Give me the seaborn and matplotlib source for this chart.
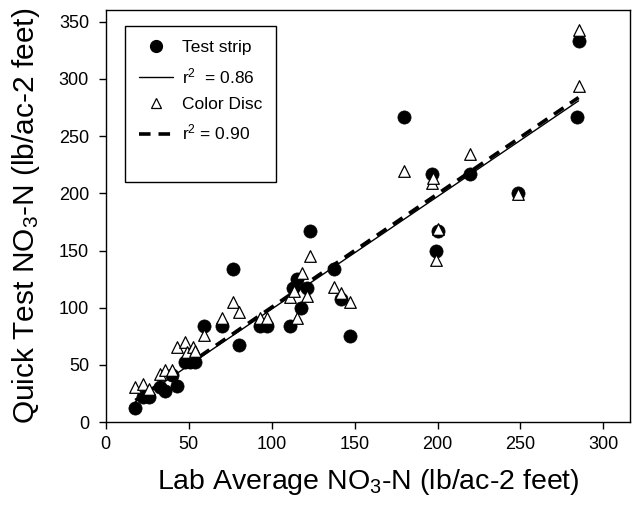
import numpy as np
import pandas as pd
import matplotlib
matplotlib.use("Agg")
import matplotlib.pyplot as plt
from matplotlib.lines import Line2D
import seaborn as sns

# Test strip readings vs lab average (lb/ac-2 feet)
strip_x = [17.5, 22.5, 26, 32.5, 36, 40, 43, 48, 50.5, 54, 59.5, 70, 77, 80.5, 93, 97.5,
           111, 113, 115, 117.5, 121.5, 123, 137.5, 142, 147.5, 179.5, 196.5, 199, 200.5,
           219.5, 248.5, 284, 285]
strip_y = [12, 22, 22, 30.5, 27, 41, 31.5, 52.5, 52.5, 52.5, 84, 84, 133.5, 67.5, 84, 84,
           84, 117, 125.5, 100, 117, 167, 133.5, 108, 75, 267, 217, 150, 167,
           217, 200, 267, 333]

# Color disc readings vs lab average
disc_x = [17.5, 22.5, 26, 33, 36, 40, 43, 48, 49, 52.5, 54, 59, 70, 77, 80.5, 93, 97.5,
          111, 113.5, 115, 118, 121.5, 123, 137.5, 142, 147.5, 179.5, 196.5, 197, 199,
          200.5, 219.5, 248.5, 285, 285]
disc_y = [30.5, 33.5, 29, 42, 45.5, 45.5, 65.5, 70.5, 61, 66, 62.5, 76, 91, 105, 96, 91, 91,
          109, 115, 91, 130, 110, 145, 118, 113, 105, 219.5, 209, 213, 142,
          168.5, 234, 199.5, 293.5, 343]

# fitted lines (slope, intercept)
strip_fit = (0.984, 0.4)
disc_fit = (0.991, 1.3)
fit_range = [17.9, 285]

strip = pd.DataFrame({"lab": strip_x, "quick": strip_y})
disc = pd.DataFrame({"lab": disc_x, "quick": disc_y})

sns.set_style("ticks")
plt.rcParams["font.family"] = ["Liberation Sans", "DejaVu Sans"]
plt.rcParams["mathtext.fontset"] = "custom"
plt.rcParams["mathtext.rm"] = "Liberation Sans"
plt.rcParams["mathtext.it"] = "Liberation Sans"
plt.rcParams["text.color"] = "black"
plt.rcParams["axes.labelcolor"] = "black"

fig = plt.figure(figsize=(6.37, 5.13), dpi=100)
ax = fig.add_axes([0.166, 0.177, 0.823, 0.803])

# regression lines
fx = np.array(fit_range)
sns.lineplot(x=fx, y=strip_fit[0] * fx + strip_fit[1], color="black", lw=1.0, ax=ax)
sns.lineplot(x=fx, y=disc_fit[0] * fx + disc_fit[1], color="black", lw=2.6,
             dashes=False, ax=ax).lines[-1].set_linestyle((0, (3.2, 2.2)))

# points
sns.scatterplot(data=strip, x="lab", y="quick", marker="o", s=90, color="black",
                edgecolor="black", linewidth=0.5, ax=ax, zorder=3)
sns.scatterplot(data=disc, x="lab", y="quick", marker="^", s=70, facecolor="white",
                edgecolor="black", linewidth=0.9, ax=ax, zorder=4)

ax.set_xlim(0, 316)
ax.set_ylim(0, 360)
ax.set_xticks(np.arange(0, 301, 50))
ax.set_yticks(np.arange(0, 351, 50))
ax.tick_params(direction="out", length=5, width=1, labelsize=13, colors="black")
ax.tick_params(axis="y", pad=7)
ax.tick_params(axis="x", pad=5)
for sp in ax.spines.values():
    sp.set_visible(True)
    sp.set_color("black")
    sp.set_linewidth(1.0)

ax.set_xlabel("Lab Average NO$_3$-N (lb/ac-2 feet)", fontsize=20.5, labelpad=10)
ax.set_ylabel("Quick Test NO$_3$-N (lb/ac-2 feet)", fontsize=21.5, labelpad=12)

handles = [
    Line2D([], [], ls="none", marker="o", ms=8.5, color="black"),
    Line2D([], [], color="black", lw=1.0),
    Line2D([], [], ls="none", marker="^", ms=7, mfc="white", mec="black", mew=0.9),
    Line2D([], [], color="black", lw=2.6, ls=(0, (3.2, 2.2))),
    Line2D([], [], ls="none"),
]
labels = ["Test strip", "r$^2$  = 0.86", "Color Disc", "r$^2$ = 0.90", ""]
leg = ax.legend(handles, labels, loc="upper left", bbox_to_anchor=(0.036, 0.961),
                borderaxespad=0, fontsize=12.5, frameon=True, fancybox=False,
                framealpha=1, edgecolor="black", handlelength=2.0, labelspacing=0.62,
                borderpad=0.8, handletextpad=0.5)
leg.get_frame().set_linewidth(1.0)

fig.savefig("out.png", dpi=100)
